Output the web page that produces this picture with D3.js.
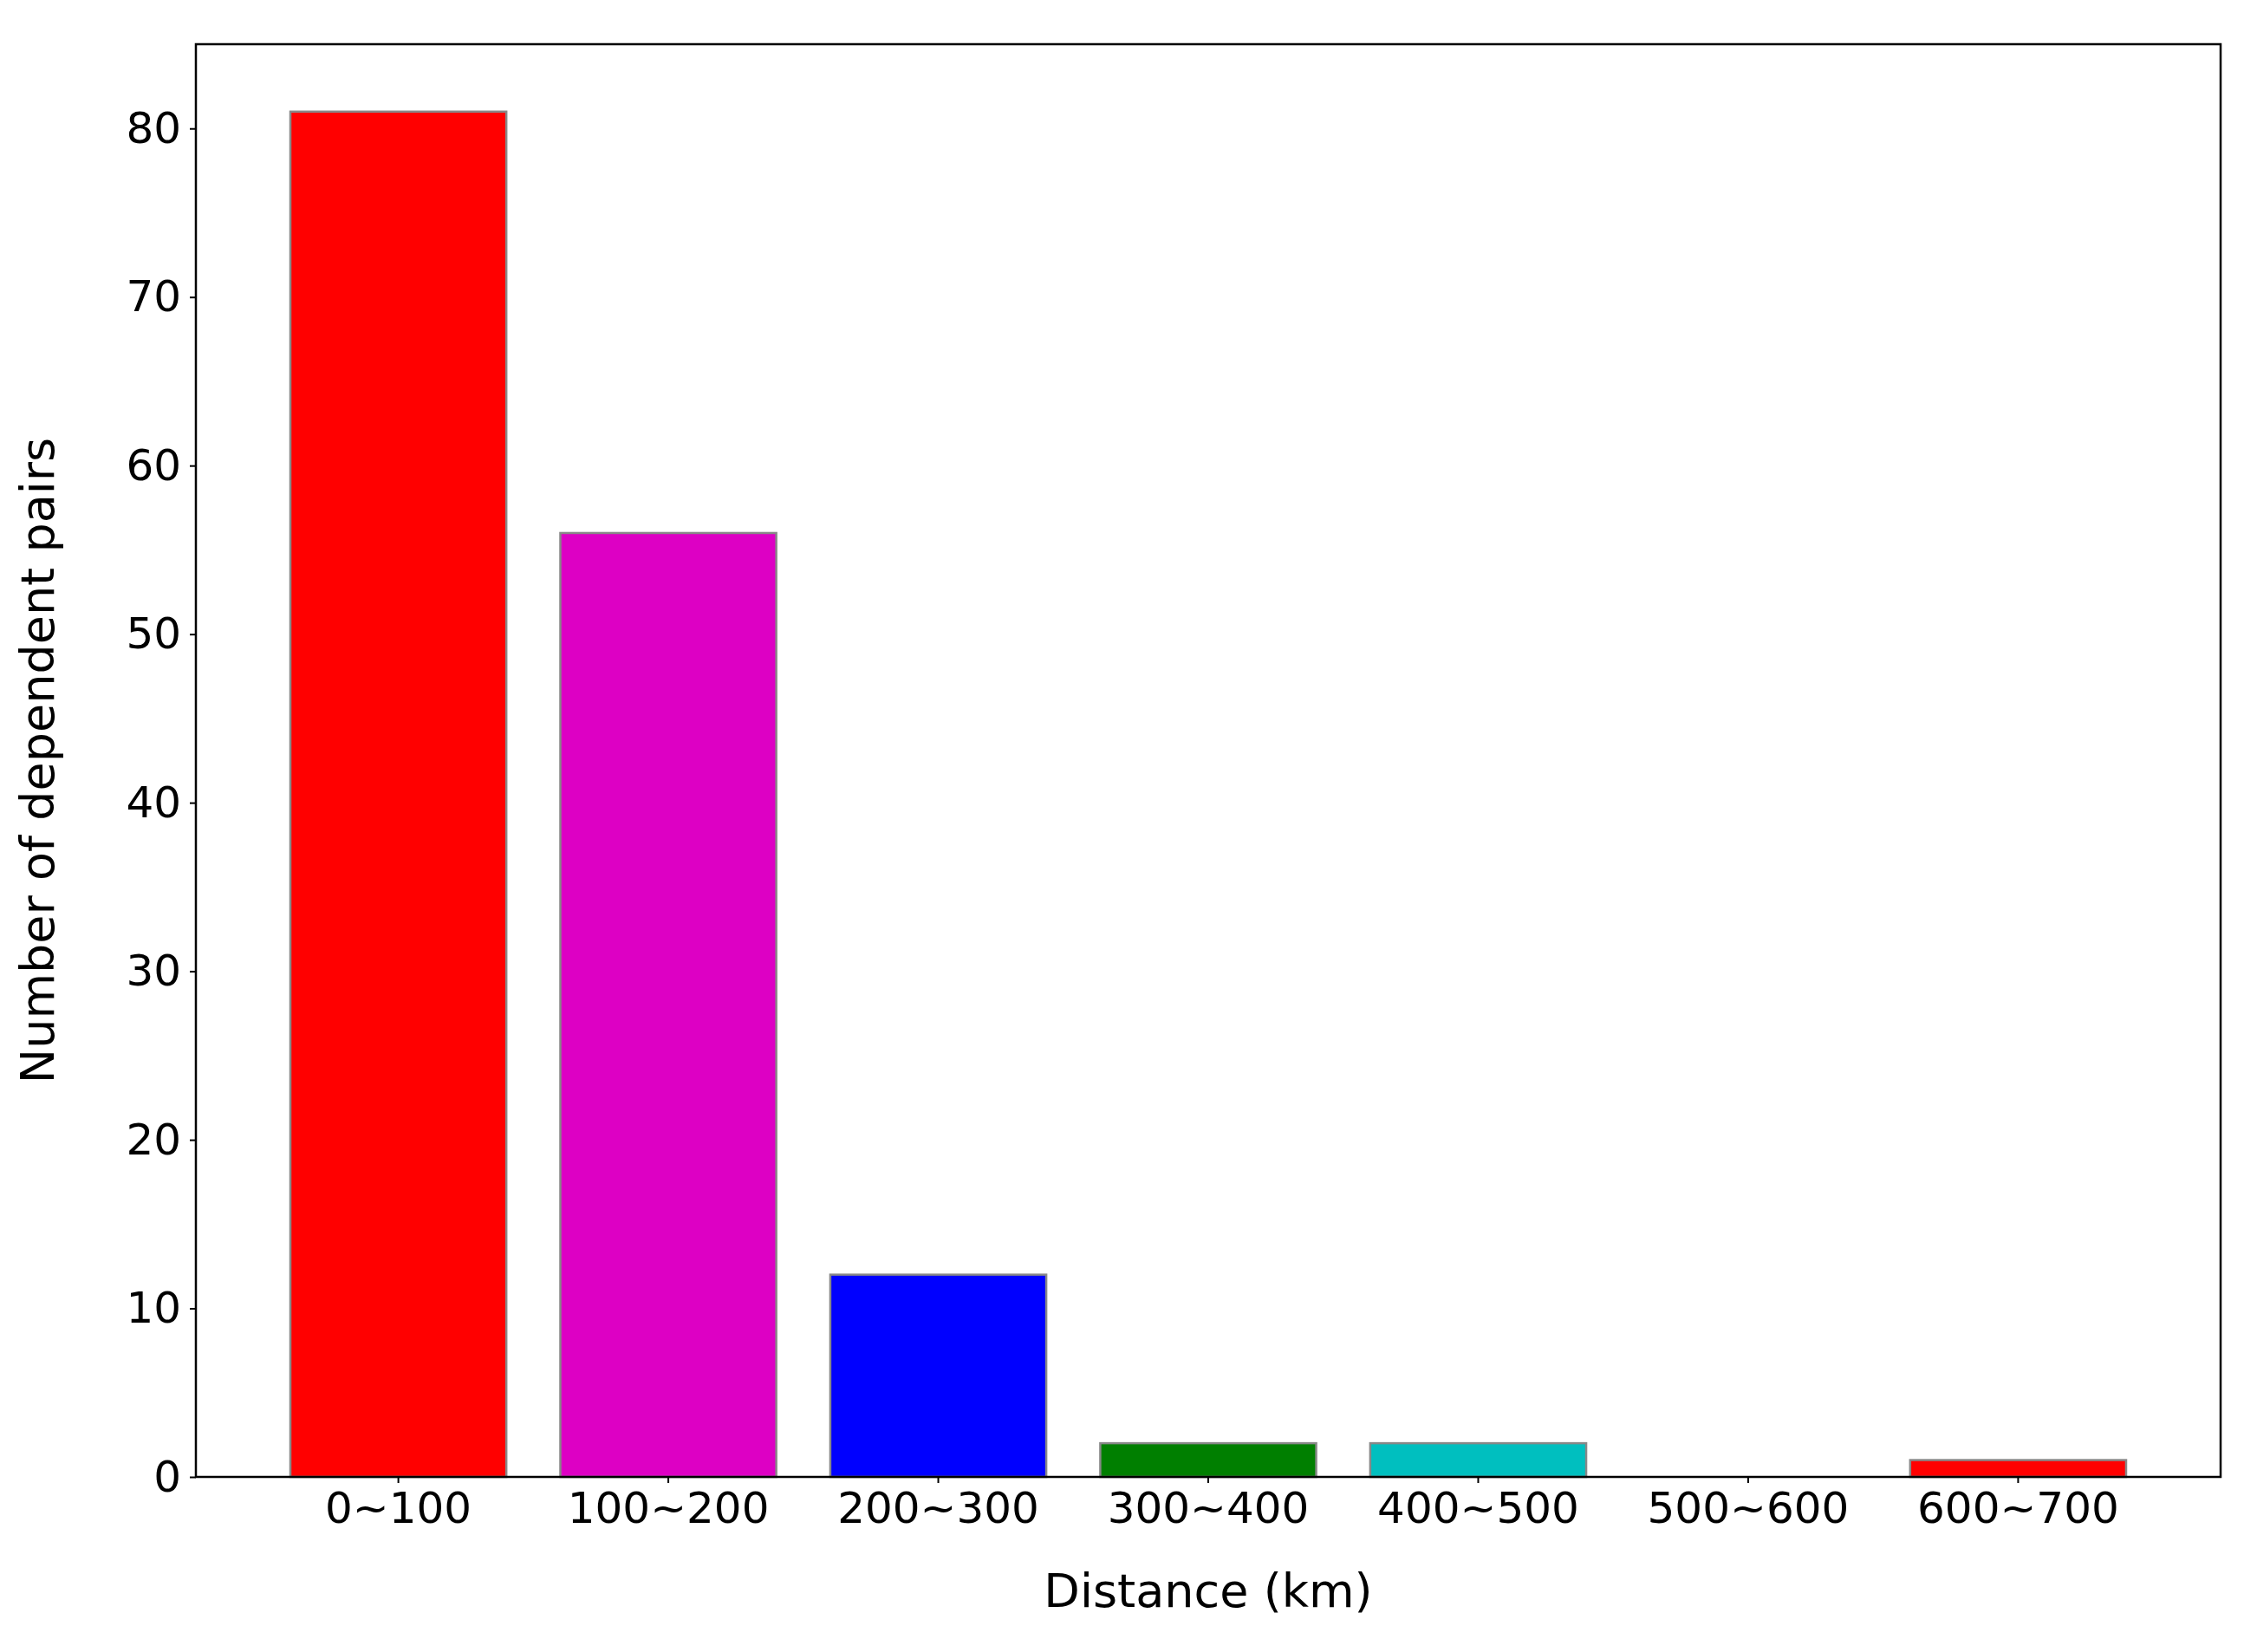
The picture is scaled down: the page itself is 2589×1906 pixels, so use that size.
<!DOCTYPE html>
<html>
<head>
<meta charset="utf-8">
<script src="https://cdn.jsdelivr.net/npm/d3@7"></script>
<style>
  body { margin: 0; background: #fff; }
  text { font-family: "DejaVu Sans", sans-serif; fill: #000; }
</style>
</head>
<body>
<div id="chart"></div>
<script>
var svgWidth = 2589;
var svgHeight = 1906;

var margin = { top: 51, right: 27, bottom: 202, left: 226 };

var width = svgWidth - margin.left - margin.right;
var height = svgHeight - margin.top - margin.bottom;

// data
var categories = ["0~100", "100~200", "200~300", "300~400", "400~500", "500~600", "600~700"];
var counts = [81, 56, 12, 2, 2, 0, 1];
var barColors = ["#ff0000", "#dd00c4", "#0000ff", "#007f00", "#00bfbf", "#ff0000", "#ff0000"];
var yTicks = [0, 10, 20, 30, 40, 50, 60, 70, 80];

var svg = d3.select("#chart").append("svg")
  .attr("width", svgWidth)
  .attr("height", svgHeight);

var chartGroup = svg.append("g")
  .attr("transform", `translate(${margin.left}, ${margin.top})`);

var xScale = d3.scaleBand()
  .domain(categories)
  .range([0, width])
  .paddingInner(0.2)
  .paddingOuter(0.35);

var yScale = d3.scaleLinear()
  .domain([0, 85])
  .range([height, 0]);

// bars
chartGroup.selectAll("rect.bar")
  .data(counts)
  .enter()
  .append("rect")
  .attr("class", "bar")
  .attr("x", (d, i) => xScale(categories[i]))
  .attr("y", d => yScale(d))
  .attr("width", xScale.bandwidth())
  .attr("height", d => height - yScale(d))
  .attr("fill", (d, i) => barColors[i])
  .attr("stroke", "#888")
  .attr("stroke-width", 2.5);

// axes
var bottomAxis = d3.axisBottom(xScale).tickSize(7).tickPadding(10);
var leftAxis = d3.axisLeft(yScale).tickValues(yTicks).tickSize(7).tickPadding(10);

var xg = chartGroup.append("g")
  .attr("transform", `translate(0, ${height})`)
  .call(bottomAxis);
xg.select(".domain").remove();
xg.selectAll("text").attr("font-size", "50px");

var yg = chartGroup.append("g").call(leftAxis);
yg.select(".domain").remove();
yg.selectAll("text").attr("font-size", "50px");

chartGroup.selectAll(".tick line").attr("stroke", "#000").attr("stroke-width", 2);

// frame
chartGroup.append("rect")
  .attr("width", width)
  .attr("height", height)
  .attr("fill", "none")
  .attr("stroke", "#000")
  .attr("stroke-width", 2.5);

// axis labels
chartGroup.append("text")
  .attr("transform", "rotate(-90)")
  .attr("x", 0 - (height / 2))
  .attr("y", -164)
  .attr("text-anchor", "middle")
  .attr("font-size", "54px")
  .text("Number of dependent pairs");

chartGroup.append("text")
  .attr("x", width / 2)
  .attr("y", height + 150)
  .attr("text-anchor", "middle")
  .attr("font-size", "54px")
  .text("Distance (km)");
</script>
</body>
</html>
